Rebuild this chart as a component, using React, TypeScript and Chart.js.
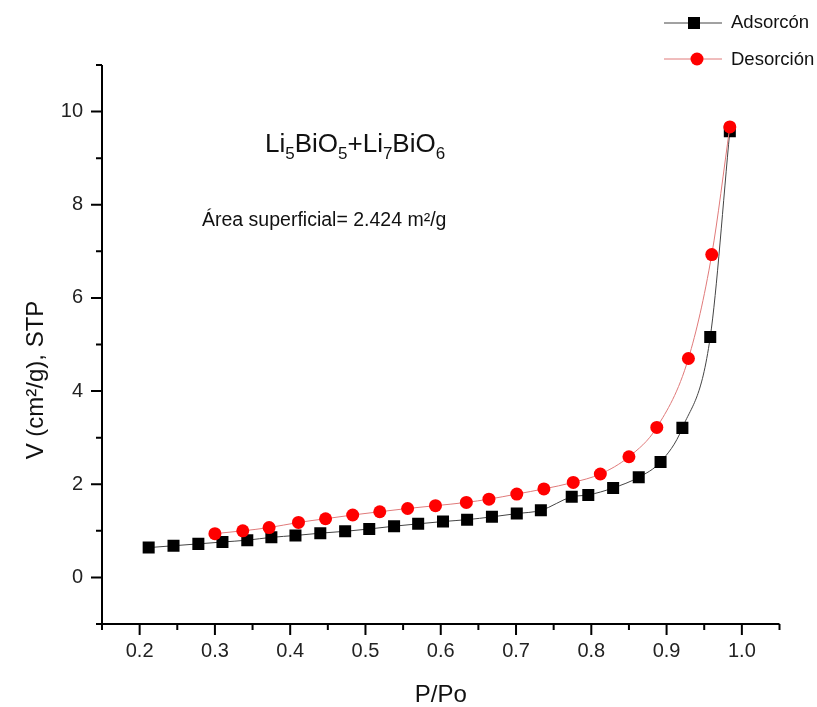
import React, { useEffect, useRef } from "react";
import { Chart, registerables } from "chart.js";

Chart.register(...registerables);

// Adsorption branch (P/Po, V)
const adsX = [0.212, 0.245, 0.278, 0.310, 0.343, 0.375, 0.407, 0.440, 0.473, 0.505, 0.538, 0.570, 0.603, 0.635, 0.668, 0.701, 0.733, 0.774, 0.796, 0.829, 0.863, 0.892, 0.921, 0.958, 0.984];
const adsY = [0.64, 0.68, 0.72, 0.76, 0.80, 0.86, 0.90, 0.95, 0.99, 1.04, 1.10, 1.15, 1.20, 1.24, 1.30, 1.37, 1.44, 1.73, 1.77, 1.92, 2.15, 2.48, 3.21, 5.16, 9.58];

// Desorption branch (P/Po, V)
const desX = [0.300, 0.337, 0.372, 0.411, 0.447, 0.483, 0.519, 0.556, 0.593, 0.634, 0.664, 0.701, 0.737, 0.776, 0.812, 0.850, 0.887, 0.929, 0.960, 0.984];
const desY = [0.94, 1.00, 1.07, 1.18, 1.26, 1.34, 1.41, 1.48, 1.54, 1.61, 1.68, 1.79, 1.90, 2.04, 2.22, 2.59, 3.22, 4.70, 6.93, 9.67];

// Axis ticks
const xMajor = [0.2, 0.3, 0.4, 0.5, 0.6, 0.7, 0.8, 0.9, 1.0];
const xMinor = [0.15, 0.25, 0.35, 0.45, 0.55, 0.65, 0.75, 0.85, 0.95, 1.05];
const yMajor = [0, 2, 4, 6, 8, 10];
const yMinor = [-1, 1, 3, 5, 7, 9, 11];

const xTitle = "P/Po";
const yTitle = "V (cm²/g), STP";
const formula: [string, boolean][] = [["Li", false], ["5", true], ["BiO", false], ["5", true], ["+Li", false], ["7", true], ["BiO", false], ["6", true]];
const areaText = "Área superficial= 2.424 m²/g";
const adsLabel = "Adsorcón";
const desLabel = "Desorción";

const FONT = '"Liberation Sans", Arial, sans-serif';
const ADS_LINE = "#444444";
const DES_LINE = "#e07a7a";

const decorPlugin = {
  id: "decor",
  afterDraw(chart: any) {
    const ctx = chart.ctx as CanvasRenderingContext2D;
    const ca = chart.chartArea;
    const xs = chart.scales.x;
    const ys = chart.scales.y;
    ctx.save();
    ctx.strokeStyle = "#000";
    ctx.lineWidth = 2;
    ctx.lineCap = "butt";
    // axis lines
    ctx.beginPath();
    ctx.moveTo(ca.left, ca.top);
    ctx.lineTo(ca.left, ca.bottom);
    ctx.lineTo(ca.right, ca.bottom);
    ctx.stroke();
    // ticks
    ctx.beginPath();
    yMajor.forEach((v) => {
      const p = ys.getPixelForValue(v);
      ctx.moveTo(ca.left - 11, p);
      ctx.lineTo(ca.left, p);
    });
    yMinor.forEach((v) => {
      const p = ys.getPixelForValue(v);
      ctx.moveTo(ca.left - 6, p);
      ctx.lineTo(ca.left, p);
    });
    xMajor.forEach((v) => {
      const p = xs.getPixelForValue(v);
      ctx.moveTo(p, ca.bottom);
      ctx.lineTo(p, ca.bottom + 11);
    });
    xMinor.forEach((v) => {
      const p = xs.getPixelForValue(v);
      ctx.moveTo(p, ca.bottom);
      ctx.lineTo(p, ca.bottom + 6);
    });
    ctx.stroke();

    // axis titles
    ctx.fillStyle = "#111";
    ctx.font = `24px ${FONT}`;
    ctx.textAlign = "center";
    ctx.textBaseline = "middle";
    ctx.fillText(xTitle, (ca.left + ca.right) / 2, 695);
    ctx.save();
    ctx.translate(36, 380);
    ctx.rotate(-Math.PI / 2);
    ctx.fillText(yTitle, 0, 0);
    ctx.restore();

    // formula annotation
    ctx.textAlign = "left";
    ctx.textBaseline = "alphabetic";
    let fx = 265;
    formula.forEach(([t, sub]) => {
      ctx.font = sub ? `17px ${FONT}` : `26px ${FONT}`;
      ctx.fillText(t, fx, sub ? 159 : 152);
      fx += ctx.measureText(t).width;
    });
    ctx.font = `19.5px ${FONT}`;
    ctx.fillText(areaText, 202, 226);

    // legend
    const drawEntry = (y: number, mx: number, color: string, lineColor: string, shape: string, label: string, ty: number) => {
      ctx.strokeStyle = lineColor;
      ctx.lineWidth = 1;
      ctx.beginPath();
      ctx.moveTo(664, y);
      ctx.lineTo(722, y);
      ctx.stroke();
      ctx.fillStyle = color;
      ctx.beginPath();
      if (shape === "rect") ctx.rect(mx - 6, y - 6, 12, 12);
      else ctx.arc(mx, y, 6.5, 0, Math.PI * 2);
      ctx.fill();
      ctx.fillStyle = "#111";
      ctx.font = `18.5px ${FONT}`;
      ctx.fillText(label, 731, ty);
    };
    drawEntry(23, 694, "#000", ADS_LINE, "rect", adsLabel, 28);
    drawEntry(59, 697, "#ff0000", DES_LINE, "circle", desLabel, 65);
    ctx.restore();
  },
};

export default function App() {
  const ref = useRef<HTMLCanvasElement | null>(null);
  useEffect(() => {
    if (!ref.current) return;
    const chart = new Chart(ref.current, {
      type: "line",
      data: {
        datasets: [
          {
            label: desLabel,
            data: desX.map((x, i) => ({ x, y: desY[i] })),
            borderColor: DES_LINE,
            borderWidth: 1,
            pointStyle: "circle",
            pointRadius: 6.5,
            pointBackgroundColor: "#ff0000",
            pointBorderColor: "#ff0000",
            pointBorderWidth: 0,
            cubicInterpolationMode: "monotone",
            order: 0,
          },
          {
            label: adsLabel,
            data: adsX.map((x, i) => ({ x, y: adsY[i] })),
            borderColor: ADS_LINE,
            borderWidth: 1,
            pointStyle: "rect",
            pointRadius: 8.5,
            pointBackgroundColor: "#000",
            pointBorderColor: "#000",
            pointBorderWidth: 0,
            cubicInterpolationMode: "monotone",
            order: 1,
          },
        ] as any,
      },
      options: {
        animation: false,
        responsive: true,
        maintainAspectRatio: false,
        layout: { padding: { left: 0, top: 65, right: 37.5, bottom: 0 } },
        plugins: { legend: { display: false }, tooltip: { enabled: false } },
        scales: {
          x: {
            type: "linear",
            min: 0.15,
            max: 1.05,
            afterBuildTicks: (s: any) => {
              s.ticks = xMajor.map((v) => ({ value: v }));
            },
            afterFit: (s: any) => {
              s.height = 83;
            },
            ticks: {
              callback: (v: any) => Number(v).toFixed(1),
              font: { family: FONT, size: 20 },
              color: "#222",
              padding: 15,
              maxRotation: 0,
              autoSkip: false,
            },
            grid: { display: false, drawTicks: false },
            border: { display: false },
          },
          y: {
            type: "linear",
            min: -1,
            max: 11,
            afterBuildTicks: (s: any) => {
              s.ticks = yMajor.map((v) => ({ value: v }));
            },
            afterFit: (s: any) => {
              s.width = 102;
            },
            ticks: {
              callback: (v: any) => String(v),
              font: { family: FONT, size: 20 },
              color: "#222",
              padding: 19,
              autoSkip: false,
            },
            grid: { display: false, drawTicks: false },
            border: { display: false },
          },
        },
      } as any,
      plugins: [decorPlugin],
    });
    return () => chart.destroy();
  }, []);
  return (
    <div style={{ position: "fixed", left: 0, top: 0, width: 817, height: 707, background: "#fff" }}>
      <canvas ref={ref} />
    </div>
  );
}
